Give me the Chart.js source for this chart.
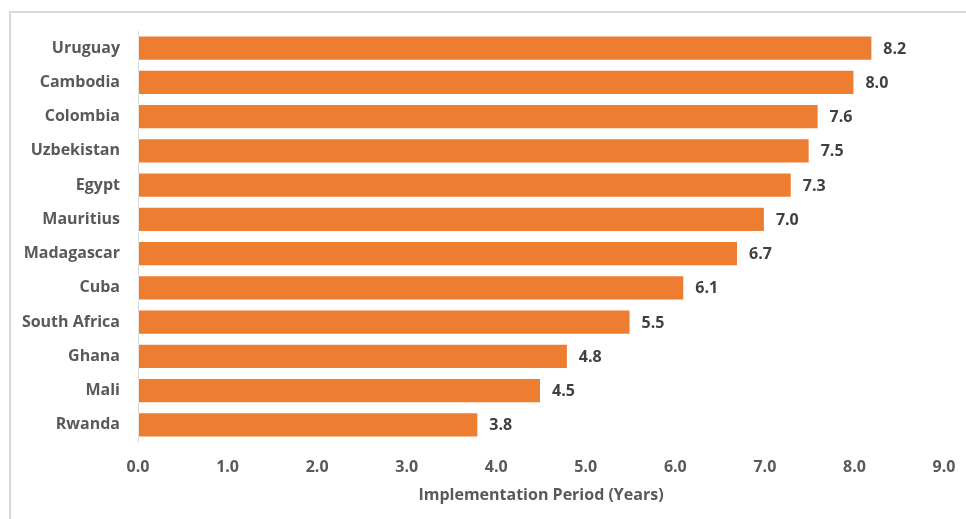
<!DOCTYPE html>
<html>
<head>
<meta charset="utf-8">
<script src="https://cdn.jsdelivr.net/npm/chart.js@4/dist/chart.umd.min.js"></script>
<style>
    html, body { margin: 0; padding: 0; background: #fff; }
    #wrap { position: relative; width: 966px; height: 519px; overflow: hidden; }
    #chart { display: block; }
</style>
</head>
<body>
<div id="wrap"><canvas id="chart" width="966" height="519"></canvas></div>
<script>
    // 国別の実施期間（年）
    const countries = ['Uruguay', 'Cambodia', 'Colombia', 'Uzbekistan', 'Egypt', 'Mauritius',
        'Madagascar', 'Cuba', 'South Africa', 'Ghana', 'Mali', 'Rwanda'];
    const periods = [8.2, 8.0, 7.6, 7.5, 7.3, 7.0, 6.7, 6.1, 5.5, 4.8, 4.5, 3.8];
    const xTicks = [0, 1, 2, 3, 4, 5, 6, 7, 8, 9];
    const axisTitle = 'Implementation Period (Years)';

    const FONT = '"Open Sans", Lato, sans-serif';
    const FONT_SIZE = 16;

    // 外枠（右と下はキャンバス外まで伸びる）
    const frame = {
        id: 'frame',
        beforeDraw: function (chart) {
            const ctx = chart.ctx;
            ctx.save();
            ctx.strokeStyle = '#d9d9d9';
            ctx.lineWidth = 2;
            ctx.strokeRect(10, 12, 1000, 560);
            ctx.restore();
        }
    };

    // バー右側の値ラベル
    const valueLabels = {
        id: 'valueLabels',
        afterDatasetsDraw: function (chart) {
            const ctx = chart.ctx;
            const meta = chart.getDatasetMeta(0);
            ctx.save();
            ctx.font = 'bold ' + FONT_SIZE + 'px ' + FONT;
            ctx.fillStyle = '#404040';
            ctx.textAlign = 'left';
            ctx.textBaseline = 'middle';
            meta.data.forEach(function (bar, i) {
                ctx.fillText(periods[i].toFixed(1), bar.x + 11, bar.y + 1);
            });
            ctx.restore();
        }
    };

    new Chart(document.getElementById('chart').getContext('2d'), {
        type: 'bar',
        data: {
            labels: countries,
            datasets: [{
                data: periods,
                backgroundColor: '#ed7d31',
                borderColor: 'rgba(255, 255, 255, 0.35)',
                borderWidth: 1,
                borderSkipped: false,
                categoryPercentage: 0.8,
                barPercentage: 0.92
            }]
        },
        options: {
            indexAxis: 'y',
            responsive: false,
            animation: false,
            devicePixelRatio: 1,
            layout: { padding: { top: 31, right: 22, bottom: 4, left: 0 } },
            plugins: {
                legend: { display: false },
                tooltip: { enabled: false }
            },
            scales: {
                x: {
                    min: 0,
                    max: 9,
                    afterBuildTicks: function (scale) {
                        scale.ticks = xTicks.map(function (v) { return { value: v }; });
                    },
                    grid: { display: false, drawTicks: false },
                    border: { display: false },
                    ticks: {
                        padding: 16,
                        color: '#595959',
                        font: { family: FONT, size: FONT_SIZE, weight: 'bold' },
                        callback: function (value) { return Number(value).toFixed(1); }
                    },
                    title: {
                        display: true,
                        text: axisTitle,
                        color: '#595959',
                        padding: { top: 0, bottom: 10 },
                        font: { family: FONT, size: FONT_SIZE, weight: 'bold' }
                    },
                    afterFit: function (scale) {
                        scale.height = 73;
                        // 端のラベル幅でプロット領域を縮めない
                        scale.paddingLeft = 0;
                        scale.paddingRight = 0;
                    }
                },
                y: {
                    grid: { display: false, drawTicks: false },
                    border: { display: true, color: '#d9d9d9', width: 1 },
                    ticks: {
                        padding: 18,
                        color: '#595959',
                        font: { family: FONT, size: FONT_SIZE, weight: 'bold' }
                    },
                    afterFit: function (scale) {
                        scale.width = 138;
                        scale.paddingTop = 0;
                        scale.paddingBottom = 0;
                    }
                }
            }
        },
        plugins: [frame, valueLabels]
    });
</script>
</body>
</html>
